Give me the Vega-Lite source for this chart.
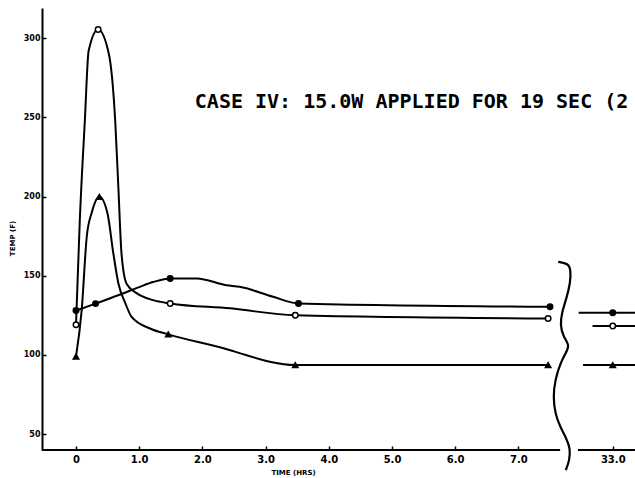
{
  "$schema": "https://vega.github.io/schema/vega-lite/v6.json",
  "width": 593,
  "height": 442,
  "autosize": "none",
  "padding": {"left": 42, "top": 8, "right": 0, "bottom": 28},
  "background": "white",
  "config": {"view": {"stroke": null}, "font": "DejaVu Sans"},
  "datasets": {
    "curves": [
      {"series": "A", "time": 0, "temp": 119}, {"series": "A", "time": 0.06, "temp": 185}, {"series": "A", "time": 0.14, "temp": 248},
      {"series": "A", "time": 0.2, "temp": 292}, {"series": "A", "time": 0.35, "temp": 305.5},
      {"series": "A", "time": 0.52, "temp": 290}, {"series": "A", "time": 0.62, "temp": 248},
      {"series": "A", "time": 0.67, "temp": 206}, {"series": "A", "time": 0.72, "temp": 164}, {"series": "A", "time": 0.8, "temp": 145},
      {"series": "A", "time": 0.96, "temp": 139}, {"series": "A", "time": 1.22, "temp": 134.6}, {"series": "A", "time": 1.49, "temp": 132.5},
      {"series": "A", "time": 2.44, "temp": 129.4}, {"series": "A", "time": 3.47, "temp": 125}, {"series": "A", "time": 7.47, "temp": 123},
      {"series": "B", "time": 0, "temp": 128}, {"series": "B", "time": 0.31, "temp": 132.4}, {"series": "B", "time": 0.69, "temp": 138},
      {"series": "B", "time": 1.01, "temp": 143}, {"series": "B", "time": 1.22, "temp": 146}, {"series": "B", "time": 1.49, "temp": 148.3},
      {"series": "B", "time": 1.91, "temp": 148.3}, {"series": "B", "time": 2.38, "temp": 144}, {"series": "B", "time": 2.59, "temp": 143},
      {"series": "B", "time": 3.12, "temp": 136.7}, {"series": "B", "time": 3.52, "temp": 132.5}, {"series": "B", "time": 7.5, "temp": 130.4},
      {"series": "C", "time": 0, "temp": 99}, {"series": "C", "time": 0.09, "temp": 128.3}, {"series": "C", "time": 0.17, "temp": 174.6},
      {"series": "C", "time": 0.25, "temp": 190}, {"series": "C", "time": 0.37, "temp": 199.8},
      {"series": "C", "time": 0.5, "temp": 189}, {"series": "C", "time": 0.59, "temp": 164.3},
      {"series": "C", "time": 0.67, "temp": 145.3}, {"series": "C", "time": 0.78, "temp": 132.7}, {"series": "C", "time": 0.88, "temp": 124},
      {"series": "C", "time": 1.17, "temp": 116.7}, {"series": "C", "time": 1.46, "temp": 113}, {"series": "C", "time": 2.44, "temp": 103},
      {"series": "C", "time": 2.6, "temp": 101}, {"series": "C", "time": 3.47, "temp": 93.6}, {"series": "C", "time": 7.47, "temp": 93.6}
    ],
    "markers": [
      {"series": "A", "time": 0, "temp": 119}, {"series": "A", "time": 0.35, "temp": 305.5}, {"series": "A", "time": 1.49, "temp": 132.5},
      {"series": "A", "time": 3.47, "temp": 125}, {"series": "A", "time": 7.47, "temp": 123}, {"series": "A", "time": 33, "temp": 118.2},
      {"series": "B", "time": 0, "temp": 128}, {"series": "B", "time": 0.31, "temp": 132.4}, {"series": "B", "time": 1.49, "temp": 148.3},
      {"series": "B", "time": 3.52, "temp": 132.5}, {"series": "B", "time": 7.5, "temp": 130.4}, {"series": "B", "time": 33, "temp": 126.6},
      {"series": "C", "time": 0, "temp": 99}, {"series": "C", "time": 0.37, "temp": 199.8}, {"series": "C", "time": 1.46, "temp": 113},
      {"series": "C", "time": 3.47, "temp": 93.6}, {"series": "C", "time": 7.47, "temp": 93.6}, {"series": "C", "time": 33, "temp": 93.6}
    ],
    "tails": [
      {"series": "A", "time": 32.68, "time_end": 33.5, "temp": 118.2},
      {"series": "B", "time": 32.46, "time_end": 33.5, "temp": 126.6},
      {"series": "C", "time": 32.53, "time_end": 33.5, "temp": 93.6}
    ],
    "xaxis": [
      {"time": -0.538, "time_end": 7.66, "temp": 40},
      {"time": 32.41, "time_end": 33.5, "temp": 40}
    ],
    "brace": [
      {"seq": 1, "time": 7.63, "temp": 158.8}, {"seq": 2, "time": 7.79, "temp": 157.8}, {"seq": 3, "time": 7.83, "temp": 153.5},
      {"seq": 4, "time": 7.82, "temp": 145.1}, {"seq": 5, "time": 7.76, "temp": 135.7}, {"seq": 6, "time": 7.69, "temp": 127.2},
      {"seq": 7, "time": 7.66, "temp": 118.8}, {"seq": 8, "time": 7.71, "temp": 111.4}, {"seq": 9, "time": 7.81, "temp": 106.2},
      {"seq": 10, "time": 7.76, "temp": 102.0}, {"seq": 11, "time": 7.66, "temp": 94.6}, {"seq": 12, "time": 7.58, "temp": 84.1},
      {"seq": 13, "time": 7.55, "temp": 73.6}, {"seq": 14, "time": 7.58, "temp": 63.1}, {"seq": 15, "time": 7.66, "temp": 54.6},
      {"seq": 16, "time": 7.76, "temp": 47.3}, {"seq": 17, "time": 7.82, "temp": 41.0}, {"seq": 18, "time": 7.81, "temp": 33.6},
      {"seq": 19, "time": 7.75, "temp": 27.3}
    ],
    "note": [
      {"text": "CASE IV: 15.0W APPLIED FOR 19 SEC (2"}
    ]
  },
  "layer": [
    {
      "data": {"name": "curves"},
      "mark": {"type": "line", "interpolate": "monotone", "color": "black", "strokeWidth": 2},
      "encoding": {
        "x": {
          "field": "time", "type": "quantitative",
          "scale": {"type": "linear", "domain": [-0.538, 7.927, 32.45, 33.352], "range": [0, 535, 536, 593], "nice": false, "zero": false},
          "axis": {
            "title": "TIME (HRS)", "values": [0, 1, 2, 3, 4, 5, 6, 7, 33],
            "labelExpr": "datum.value == 0 ? '0' : format(datum.value, '.1f')",
            "domain": false, "grid": false, "tickColor": "black", "tickSize": -4, "tickWidth": 1.5,
            "labelPadding": 8, "labelFontSize": 10, "labelFontWeight": "bold", "labelColor": "black",
            "titleFontSize": 7, "titleFontWeight": "bold", "titleColor": "black", "titleX": 251, "titleY": 22, "titleBaseline": "middle"
          }
        },
        "y": {
          "field": "temp", "type": "quantitative",
          "scale": {"domain": [40, 319], "nice": false, "zero": false},
          "axis": {
            "title": "TEMP (F)", "values": [50, 100, 150, 200, 250, 300],
            "domain": true, "domainColor": "black", "domainWidth": 2, "grid": false,
            "tickColor": "black", "tickSize": -4, "tickWidth": 1.5, "labelPadding": 6,
            "labelFontSize": 8, "labelFontWeight": "bold", "labelColor": "black",
            "titleFontSize": 7, "titleFontWeight": "bold", "titleColor": "black", "titleX": -30, "titleY": 230, "titleAngle": -90, "titleAlign": "center", "titleBaseline": "middle"
          }
        },
        "detail": {"field": "series"}
      }
    },
    {
      "data": {"name": "xaxis"},
      "mark": {"type": "rule", "color": "black", "strokeWidth": 2},
      "encoding": {
        "x": {"field": "time", "type": "quantitative"},
        "x2": {"field": "time_end"},
        "y": {"field": "temp", "type": "quantitative"}
      }
    },
    {
      "data": {"name": "tails"},
      "mark": {"type": "rule", "color": "black", "strokeWidth": 2},
      "encoding": {
        "x": {"field": "time", "type": "quantitative"},
        "x2": {"field": "time_end"},
        "y": {"field": "temp", "type": "quantitative"}
      }
    },
    {
      "data": {"name": "brace"},
      "mark": {"type": "line", "interpolate": "basis", "color": "black", "strokeWidth": 2.2},
      "encoding": {
        "x": {"field": "time", "type": "quantitative"},
        "y": {"field": "temp", "type": "quantitative"},
        "order": {"field": "seq"}
      }
    },
    {
      "data": {"name": "markers"},
      "mark": {"type": "point", "stroke": "black", "strokeWidth": 1.5, "size": 30, "opacity": 1},
      "encoding": {
        "x": {"field": "time", "type": "quantitative"},
        "y": {"field": "temp", "type": "quantitative"},
        "shape": {"field": "series", "scale": {"domain": ["A", "B", "C"], "range": ["circle", "circle", "triangle-up"]}, "legend": null},
        "fill": {"field": "series", "scale": {"domain": ["A", "B", "C"], "range": ["white", "black", "black"]}, "legend": null}
      }
    },
    {
      "data": {"name": "note"},
      "mark": {"type": "text", "align": "left", "baseline": "alphabetic", "font": "DejaVu Sans Mono", "fontWeight": "bold", "fontSize": 20, "color": "black"},
      "encoding": {
        "x": {"datum": 1.88, "type": "quantitative"},
        "y": {"datum": 256, "type": "quantitative"},
        "text": {"field": "text"}
      }
    }
  ]
}
